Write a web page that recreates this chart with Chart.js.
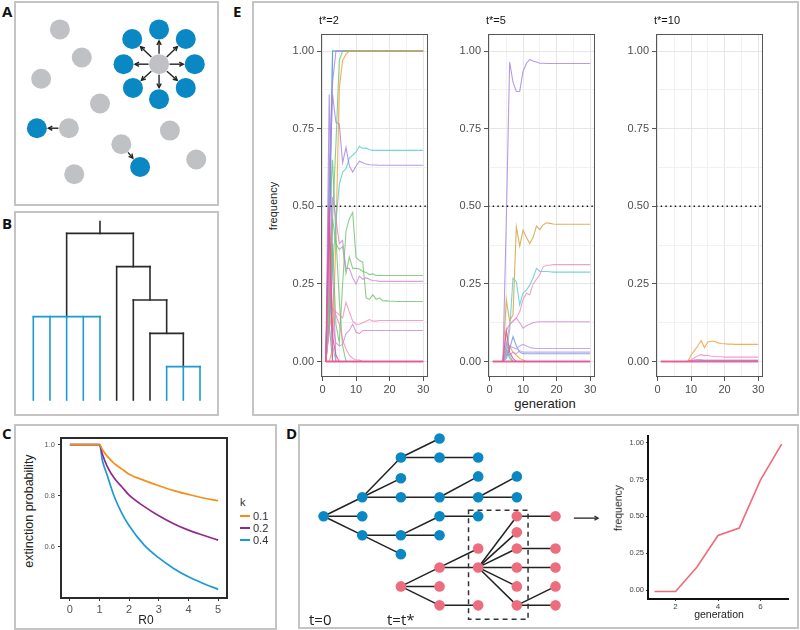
<!DOCTYPE html>
<html>
<head>
<meta charset="utf-8">
<script src="https://cdn.jsdelivr.net/npm/chart.js@4.4.1/dist/chart.umd.min.js"></script>
<style>
html,body{margin:0;padding:0;background:#fff}
body{width:800px;height:630px;position:relative;overflow:hidden;font-family:"Liberation Sans",Arial,sans-serif;color:#222}
.box{position:absolute;border:2px solid #c4c4c4;box-sizing:border-box}
.t{position:absolute;white-space:nowrap;line-height:1}
canvas{position:absolute}
</style>
</head>
<body>
<script>
Chart.defaults.font.family = '"Liberation Sans", Arial, sans-serif';

// ================= DATA =================
// Panel A: individuals (x, y in 0..100 box units)
const grayA = [[19.5,90.0],[31.4,74.7],[9.3,63.2],[41.3,49.7],[24.4,36.3],[79.3,35.0],[52.9,27.6],[93.6,19.3],[27.3,11.3],[73.4,71.1]];
const blueA = [[73.4,90.0],[87.9,84.8],[92.8,71.1],[87.9,58.2],[73.4,52.1],[59.2,58.2],[54.1,71.1],[58.8,84.8],[7.0,36.3],[63.1,15.2]];
const arrowsA = [[9,0],[9,1],[9,2],[9,3],[9,4],[9,5],[9,6],[9,7],[4,8],[6,9]]; // gray index -> blue index

// Panel B: dendrogram segments [x1,y1,x2,y2] (x = leaf index, y = height)
const dendroBlack = [[3,2.5,3,5],[3,5,7,5],[5,5,5,5.35],[7,4,7,5],[6,4,8,4],[6,0,6,4],[8,3,8,4],[7,3,9,3],[7,0,7,3],[9,2,9,3],[8,2,10,2],[8,0,8,2],[10,1,10,2]];
const dendroBlue = [[1,2.5,5,2.5],[1,0,1,2.5],[2,0,2,2.5],[3,0,3,2.5],[4,0,4,2.5],[5,0,5,2.5],[9,1,11,1],[9,0,9,1],[10,0,10,1],[11,0,11,1]];

// Panel C: extinction probability vs R0
const r0Values = [0,0.5,1,1.1,1.25,1.5,1.75,2,2.5,3,3.5,4,4.5,5];
const extK01 = [1,1,1,0.98,0.956,0.926,0.905,0.884,0.86,0.839,0.82,0.805,0.791,0.78];
const extK02 = [1,1,1,0.961,0.917,0.868,0.835,0.802,0.758,0.721,0.69,0.665,0.645,0.626];
const extK04 = [1,1,1,0.936,0.883,0.796,0.732,0.682,0.607,0.556,0.515,0.482,0.456,0.433];
const kLabels = ['0.1','0.2','0.4'];
const cXTicks = [0,1,2,3,4,5];
const cYTicks = [0.6,0.8,1.0];

// Panel D: transmission tree (x = generation column, y = row)
const blueNodesD = [[0,4.1],[1,3.1],[1,4.1],[1,5.1],[2,1],[2,2.1],[2,3.1],[2,5.1],[2,6.1],[3,0],[3,1],[3,3.1],[3,4.1],[3,5.1],[4,1],[4,2],[4,3.1],[4,4.1],[5,2],[5,3.1]];
const pinkNodesD = [[2,7.8],[3,6.8],[3,7.8],[3,8.8],[4,5.8],[4,6.8],[4,8.8],[5,4.1],[5,4.95],[5,5.8],[5,6.8],[5,7.8],[5,8.8],[6,4.1],[6,5.8],[6,6.8],[6,7.8],[6,8.8]];
const edgesD = [[0,4.1,1,3.1],[0,4.1,1,4.1],[0,4.1,1,5.1],[1,3.1,2,1],[1,3.1,2,2.1],[1,3.1,2,3.1],[1,5.1,2,5.1],[1,5.1,2,6.1],
  [2,1,3,0],[2,1,3,1],[2,3.1,3,3.1],[2,5.1,3,4.1],[2,5.1,3,5.1],[3,1,4,1],[3,3.1,4,2],[3,3.1,4,3.1],[3,4.1,4,4.1],[4,3.1,5,2],[4,3.1,5,3.1],
  [2,7.8,3,6.8],[2,7.8,3,7.8],[2,7.8,3,8.8],[3,6.8,4,5.8],[3,6.8,4,6.8],[3,8.8,4,8.8],
  [4,6.8,5,4.1],[4,6.8,5,4.95],[4,6.8,5,5.8],[4,6.8,5,6.8],[4,6.8,5,7.8],[4,6.8,5,8.8],
  [5,4.1,6,4.1],[5,5.8,6,5.8],[5,6.8,6,6.8],[5,8.8,6,7.8],[5,8.8,6,8.8]];
const windowD = [3.75,3.78,5.29,9.53];
const arrowD = [6.475,4.2,7.1,4.2];
const dGenerations = [1,2,3,4,5,6,7];
const dFrequency = [-0.01,-0.01,0.155,0.37,0.42,0.745,0.99];
const dXTicks = [2,4,6];
const dYTicks = [0,0.25,0.5,0.75,1];

// Panel E: frequency trajectories
const generations = [1,2,3,4,5,6,7,8,9,10,11,12,13,14,15,16,17,18,19,20,21,22,23,24,25,26,27,28,29,30];
const eTitles = ['t*=2','t*=5','t*=10'];
const threshold = 0.5;
const eYTicks = [0,0.125,0.25,0.375,0.5,0.625,0.75,0.875,1];
const eYMajor = [0,0.25,0.5,0.75,1];
const eXTicks = [0,5,10,15,20,25,30];
const eXMajor = [0,10,20,30];

// t* = 2
const e2_purpleDecay = [0,0.86,0.3,0,0,0,0,0,0,0, 0,0,0,0,0,0,0,0,0,0, 0,0,0,0,0,0,0,0,0,0];
const e2_tealDecay   = [0,0.25,0.05,0,0,0,0,0,0,0, 0,0,0,0,0,0,0,0,0,0, 0,0,0,0,0,0,0,0,0,0];
const e2_blueDecay   = [0,0.12,0,0,0,0,0,0,0,0, 0,0,0,0,0,0,0,0,0,0, 0,0,0,0,0,0,0,0,0,0];
const e2_greenDecay  = [0,0.45,0.65,0.4,0.2,0.05,0,0,0,0, 0,0,0,0,0,0,0,0,0,0, 0,0,0,0,0,0,0,0,0,0];
const e2_tealFix   = [0,0.48,1,1,1,1,1,1,1,1, 1,1,1,1,1,1,1,1,1,1, 1,1,1,1,1,1,1,1,1,1];
const e2_blueFix   = [0,0.3,1,1,1,1,1,1,1,1, 1,1,1,1,1,1,1,1,1,1, 1,1,1,1,1,1,1,1,1,1];
const e2_purpleFix = [0,0.62,0.9,1,1,1,1,1,1,1, 1,1,1,1,1,1,1,1,1,1, 1,1,1,1,1,1,1,1,1,1];
const e2_greenFix  = [0,0.2,0.46,0.7,0.97,1,1,1,1,1, 1,1,1,1,1,1,1,1,1,1, 1,1,1,1,1,1,1,1,1,1];
const e2_orangeFix = [0,0,0.04,0.4,0.88,0.97,0.99,1,1,1, 1,1,1,1,1,1,1,1,1,1, 1,1,1,1,1,1,1,1,1,1];
const e2_teal68   = [0,0.12,0.3,0.45,0.57,0.61,0.62,0.655,0.665,0.675, 0.693,0.686,0.688,0.682,0.68,0.68,0.68,0.68,0.68,0.68, 0.68,0.68,0.68,0.68,0.68,0.68,0.68,0.68,0.68,0.68];
const e2_purple63 = [0,0.55,0.86,0.77,0.765,0.64,0.69,0.63,0.61,0.63, 0.645,0.64,0.636,0.634,0.633,0.633,0.632,0.632,0.632,0.632, 0.632,0.632,0.632,0.632,0.632,0.632,0.632,0.632,0.632,0.632];
const e2_green28  = [0,0.1,0.46,0.38,0.36,0.37,0.284,0.337,0.3,0.3, 0.298,0.29,0.287,0.28,0.282,0.277,0.278,0.277,0.277,0.277, 0.277,0.277,0.277,0.277,0.277,0.277,0.277,0.277,0.277,0.277];
const e2_green19  = [0,0.15,0.38,0.12,0.06,0.25,0.42,0.46,0.48,0.335, 0.325,0.32,0.205,0.2,0.215,0.2,0.205,0.195,0.196,0.194, 0.194,0.193,0.193,0.193,0.193,0.193,0.193,0.193,0.193,0.193];
const e2_mauve26  = [0,0.25,0.53,0.46,0.38,0.39,0.3,0.3,0.27,0.25, 0.275,0.265,0.27,0.265,0.26,0.26,0.258,0.258,0.258,0.258, 0.258,0.258,0.258,0.258,0.258,0.258,0.258,0.258,0.258,0.258];
const e2_pink13   = [0,0.1,0.17,0.16,0.15,0.14,0.19,0.16,0.13,0.12, 0.12,0.125,0.13,0.135,0.13,0.13,0.132,0.132,0.132,0.132, 0.132,0.132,0.132,0.132,0.132,0.132,0.132,0.132,0.132,0.132];
const e2_purple10 = [0,0.3,0.12,0.06,0.05,0.055,0.09,0.1,0.12,0.095, 0.09,0.1,0.1,0.1,0.1,0.1,0.1,0.1,0.1,0.1, 0.1,0.1,0.1,0.1,0.1,0.1,0.1,0.1,0.1,0.1];
const e2_pinkDecay = [0,0.35,0.17,0.15,0.12,0.07,0.04,0.02,0.01,0.005, 0.005,0,0,0,0,0,0,0,0,0, 0,0,0,0,0,0,0,0,0,0];
const e2_hotpink1  = [0,0.5,0.08,0.02,0,0,0,0,0,0, 0,0,0,0,0,0,0,0,0,0, 0,0,0,0,0,0,0,0,0,0];
const e2_hotpink2  = [0,0.45,0,0,0,0,0,0,0,0, 0,0,0,0,0,0,0,0,0,0, 0,0,0,0,0,0,0,0,0,0];
const e2_zero      = [0,0,0,0,0,0,0,0,0,0, 0,0,0,0,0,0,0,0,0,0, 0,0,0,0,0,0,0,0,0,0];

// t* = 5
const e5_teal0    = [0,0,0,0,0.06,0.02,0,0,0,0, 0,0,0,0,0,0,0,0,0,0, 0,0,0,0,0,0,0,0,0,0];
const e5_green0   = [0,0,0,0,0.04,0.01,0,0,0,0, 0,0,0,0,0,0,0,0,0,0, 0,0,0,0,0,0,0,0,0,0];
const e5_orange0  = [0,0,0,0,0.02,0.05,0.03,0.02,0.01,0.005, 0,0,0,0,0,0,0,0,0,0, 0,0,0,0,0,0,0,0,0,0];
const e5_blue025  = [0,0,0,0,0.01,0.04,0.08,0.05,0.03,0.025, 0.025,0.025,0.025,0.025,0.025,0.025,0.025,0.025,0.025,0.025, 0.025,0.025,0.025,0.025,0.025,0.025,0.025,0.025,0.025,0.025];
const e5_lav03    = [0,0,0,0,0.03,0.02,0.03,0.025,0.035,0.03, 0.03,0.03,0.03,0.03,0.03,0.03,0.03,0.03,0.03,0.03, 0.03,0.03,0.03,0.03,0.03,0.03,0.03,0.03,0.03,0.03];
const e5_lav04    = [0,0,0,0,0.02,0.05,0.045,0.04,0.05,0.055, 0.05,0.045,0.043,0.042,0.042,0.042,0.042,0.042,0.042,0.042, 0.042,0.042,0.042,0.042,0.042,0.042,0.042,0.042,0.042,0.042];
const e5_mauve13  = [0,0,0,0,0.1,0.12,0.13,0.14,0.125,0.107, 0.115,0.12,0.125,0.127,0.128,0.128,0.128,0.128,0.128,0.128, 0.128,0.128,0.128,0.128,0.128,0.128,0.128,0.128,0.128,0.128];
const e5_teal29   = [0,0,0,0,0.03,0.1,0.268,0.257,0.182,0.22, 0.23,0.246,0.27,0.3,0.29,0.29,0.29,0.289,0.288,0.288, 0.288,0.288,0.288,0.288,0.288,0.288,0.288,0.288,0.288,0.288];
const e5_pink31   = [0,0,0,0,0.05,0.12,0.13,0.14,0.16,0.2, 0.22,0.215,0.25,0.265,0.28,0.305,0.31,0.31,0.312,0.312, 0.312,0.312,0.312,0.312,0.312,0.312,0.312,0.312,0.312,0.312];
const e5_mustard44 = [0,0,0,0,0.2,0.13,0.15,0.434,0.372,0.423, 0.4,0.38,0.4,0.436,0.425,0.44,0.447,0.445,0.443,0.442, 0.442,0.442,0.442,0.442,0.442,0.442,0.442,0.442,0.442,0.442];
const e5_purple96 = [0,0,0,0,0.45,0.965,0.9,0.87,0.87,0.935, 0.96,0.973,0.968,0.965,0.961,0.961,0.96,0.96,0.96,0.96, 0.96,0.96,0.96,0.96,0.96,0.96,0.96,0.96,0.96,0.96];
const e5_hotpink0 = [0,0,0,0,0.1,0.03,0.01,0,0,0, 0,0,0,0,0,0,0,0,0,0, 0,0,0,0,0,0,0,0,0,0];
const e5_zero     = [0,0,0,0,0,0,0,0,0,0, 0,0,0,0,0,0,0,0,0,0, 0,0,0,0,0,0,0,0,0,0];

// t* = 10
const e10_blue003 = [0,0,0,0,0,0,0,0,0,0.002, 0.004,0.004,0.003,0.003,0.003,0.003,0.003,0.003,0.003,0.003, 0.003,0.003,0.003,0.003,0.003,0.003,0.003,0.003,0.003,0.003];
const e10_lav005  = [0,0,0,0,0,0,0,0,0,0.003, 0.005,0.006,0.006,0.005,0.005,0.005,0.005,0.005,0.005,0.005, 0.005,0.005,0.005,0.005,0.005,0.005,0.005,0.005,0.005,0.005];
const e10_pink014 = [0,0,0,0,0,0,0,0,0,0.005, 0.012,0.018,0.022,0.019,0.02,0.017,0.016,0.015,0.015,0.014, 0.014,0.014,0.014,0.014,0.014,0.014,0.014,0.014,0.014,0.014];
const e10_orange055 = [0,0,0,0,0,0,0,0,0,0.02, 0.035,0.05,0.067,0.045,0.063,0.065,0.065,0.06,0.058,0.057, 0.056,0.056,0.055,0.055,0.055,0.055,0.055,0.055,0.055,0.055];
const e10_zero    = [0,0,0,0,0,0,0,0,0,0, 0,0,0,0,0,0,0,0,0,0, 0,0,0,0,0,0,0,0,0,0];

// ================= STYLES =================
const COL = {
  teal:'rgba(70,200,200,0.75)', blue:'rgba(90,140,225,0.75)', purple:'rgba(165,130,220,0.8)',
  green:'rgba(100,190,100,0.75)', orange:'rgba(245,160,60,0.85)', mauve:'rgba(205,135,210,0.8)',
  pink:'rgba(242,135,185,0.8)', hotpink:'rgba(232,85,150,0.9)', mustard:'rgba(212,170,80,0.9)', lav:'rgba(185,150,220,0.8)'
};
const panelE = [
  { series:[e2_purpleDecay,e2_tealDecay,e2_blueDecay,e2_greenDecay,e2_tealFix,e2_blueFix,e2_purpleFix,e2_greenFix,e2_orangeFix,e2_teal68,e2_purple63,e2_green28,e2_green19,e2_mauve26,e2_pink13,e2_purple10,e2_pinkDecay,e2_hotpink1,e2_hotpink2,e2_zero],
    colors:[COL.purple,COL.teal,COL.blue,COL.green,COL.teal,COL.blue,COL.purple,COL.green,COL.orange,COL.teal,COL.purple,COL.green,COL.green,COL.mauve,COL.pink,COL.mauve,COL.pink,COL.hotpink,COL.hotpink,COL.hotpink] },
  { series:[e5_teal0,e5_green0,e5_orange0,e5_blue025,e5_lav03,e5_lav04,e5_mauve13,e5_teal29,e5_pink31,e5_mustard44,e5_purple96,e5_hotpink0,e5_zero],
    colors:[COL.teal,COL.green,COL.orange,COL.blue,COL.lav,COL.lav,COL.mauve,COL.teal,COL.pink,COL.mustard,COL.purple,COL.hotpink,COL.hotpink] },
  { series:[e10_blue003,e10_lav005,e10_pink014,e10_orange055,e10_zero],
    colors:['rgba(120,140,190,0.8)',COL.lav,COL.pink,COL.orange,COL.hotpink] }
];

// ================= HELPERS =================
function addBox(l,t,r,b){const d=document.createElement('div');d.className='box';Object.assign(d.style,{left:l+'px',top:t+'px',width:(r-l)+'px',height:(b-t)+'px'});document.body.appendChild(d);}
function addText(s,x,y,o){o=o||{};const d=document.createElement('div');d.className='t';d.textContent=s;d.style.left=x+'px';d.style.top=y+'px';d.style.fontSize=(o.size||12)+'px';if(o.color)d.style.color=o.color;if(o.family)d.style.fontFamily=o.family;if(o.weight)d.style.fontWeight=o.weight;let tr=o.align==='left'?'translate(0,-50%)':'translate(-50%,-50%)';if(o.rot)tr+=' rotate('+o.rot+'deg)';d.style.transform=tr;document.body.appendChild(d);return d;}
function addCanvas(l,t,w,h){const c=document.createElement('canvas');c.width=w;c.height=h;c.style.left=l+'px';c.style.top=t+'px';c.style.width=w+'px';c.style.height=h+'px';document.body.appendChild(c);return c;}
function plainOpts(xmin,xmax,ymin,ymax,rev){return {responsive:false,animation:false,events:[],layout:{padding:0},plugins:{legend:{display:false},tooltip:{enabled:false}},scales:{x:{type:'linear',display:false,min:xmin,max:xmax},y:{type:'linear',display:false,min:ymin,max:ymax,reverse:!!rev}}};}
function framePlugin(color,w){return {id:'frame',afterDraw(ch){const a=ch.chartArea,ctx=ch.ctx;ctx.save();ctx.strokeStyle=color;ctx.lineWidth=w;const o=(w%2)?0.5:0;ctx.strokeRect(Math.round(a.left)+o,Math.round(a.top)+o,Math.round(a.right-a.left)-2*o,Math.round(a.bottom-a.top)-2*o);ctx.restore();}};}
function pts(arr){return arr.map(p=>({x:p[0],y:p[1]}));}
function head(ctx,ex,ey,ux,uy,len,ang){const a=Math.atan2(uy,ux);ctx.beginPath();ctx.moveTo(ex-len*Math.cos(a-ang),ey-len*Math.sin(a-ang));ctx.lineTo(ex,ey);ctx.lineTo(ex-len*Math.cos(a+ang),ey-len*Math.sin(a+ang));ctx.stroke();}

// ================= BOXES & LETTERS =================
addBox(14,1,219,206); addBox(14,211,219,416); addBox(14,424,277,630); addBox(298,424,799,629); addBox(252,1,799,416);
const LF = '"Open Sans","Liberation Sans",sans-serif';
addText('A',2,11,{size:15,weight:700,align:'left',family:LF,color:'#111'});
addText('B',2,223,{size:15,weight:700,align:'left',family:LF,color:'#111'});
addText('C',2,433,{size:15,weight:700,align:'left',family:LF,color:'#111'});
addText('D',286,433,{size:15,weight:700,align:'left',family:LF,color:'#111'});
addText('E',233,11,{size:15,weight:700,align:'left',family:LF,color:'#111'});

// ================= PANEL A =================
new Chart(addCanvas(14,1,204,204), {
  type:'scatter',
  data:{datasets:[
    {data:pts(grayA),pointRadius:10,pointBackgroundColor:'#c0c1c4',pointBorderWidth:0,clip:false},
    {data:pts(blueA),pointRadius:10,pointBackgroundColor:'#0a88c3',pointBorderWidth:0,clip:false}]},
  options:plainOpts(0,100,0,100),
  plugins:[{id:'arrA',afterDatasetsDraw(ch){const xs=ch.scales.x,ys=ch.scales.y,ctx=ch.ctx;ctx.save();ctx.strokeStyle='#222';ctx.lineWidth=1.4;
    arrowsA.forEach(([g,b])=>{const x1=xs.getPixelForValue(grayA[g][0]),y1=ys.getPixelForValue(grayA[g][1]),x2=xs.getPixelForValue(blueA[b][0]),y2=ys.getPixelForValue(blueA[b][1]);
      const dx=x2-x1,dy=y2-y1,L=Math.hypot(dx,dy),ux=dx/L,uy=dy/L;const sx=x1+ux*10.5,sy=y1+uy*10.5,ex=x2-ux*11.5,ey=y2-uy*11.5;
      ctx.beginPath();ctx.moveTo(sx,sy);ctx.lineTo(ex,ey);ctx.stroke();head(ctx,ex,ey,ux,uy,4.5,0.5);});
    ctx.restore();}}]
});

// ================= PANEL B =================
new Chart(addCanvas(14,211,204,204),{
  type:'scatter',data:{datasets:[]},
  options:plainOpts(-0.158,12.08,-0.45,5.67),
  plugins:[{id:'dendro',afterDatasetsDraw(ch){const xs=ch.scales.x,ys=ch.scales.y,ctx=ch.ctx;ctx.save();ctx.lineWidth=1.6;ctx.lineCap='square';
    const draw=(segs,c)=>{ctx.strokeStyle=c;segs.forEach(s=>{ctx.beginPath();ctx.moveTo(xs.getPixelForValue(s[0]),ys.getPixelForValue(s[1]));ctx.lineTo(xs.getPixelForValue(s[2]),ys.getPixelForValue(s[3]));ctx.stroke();});};
    draw(dendroBlack,'#2a2a2a');draw(dendroBlue,'#1b9ad4');ctx.restore();}}]
});

// ================= PANEL C =================
new Chart(addCanvas(40,430,195,187),{
  type:'scatter',
  data:{datasets:[
    {data:r0Values.map((r,i)=>({x:r,y:extK01[i]})),showLine:true,borderColor:'#f39019',borderWidth:1.7,pointRadius:0,cubicInterpolationMode:'monotone'},
    {data:r0Values.map((r,i)=>({x:r,y:extK02[i]})),showLine:true,borderColor:'#93288f',borderWidth:1.7,pointRadius:0,cubicInterpolationMode:'monotone'},
    {data:r0Values.map((r,i)=>({x:r,y:extK04[i]})),showLine:true,borderColor:'#1b9ad6',borderWidth:1.7,pointRadius:0,cubicInterpolationMode:'monotone'}]},
  options:{responsive:false,animation:false,events:[],layout:{padding:{top:7,right:8,left:0,bottom:0}},
    plugins:{legend:{display:false},tooltip:{enabled:false}},
    scales:{
      x:{type:'linear',min:-0.3,max:5.3,afterBuildTicks:s=>{s.ticks=cXTicks.map(v=>({value:v}));},afterFit:s=>{s.height=20;},
        ticks:{autoSkip:false,maxRotation:0,padding:2,color:'#555',font:{size:11},callback:v=>String(v)},
        grid:{drawOnChartArea:false,drawTicks:true,tickLength:4,tickColor:'#333'},border:{display:false}},
      y:{type:'linear',min:0.403,max:1.028,afterBuildTicks:s=>{s.ticks=cYTicks.map(v=>({value:v}));},afterFit:s=>{s.width=21;},
        ticks:{autoSkip:false,padding:3,color:'#555',font:{size:7.5},callback:v=>v.toFixed(1)},
        grid:{drawOnChartArea:false,drawTicks:true,tickLength:3,tickColor:'#333'},border:{display:false}}
    }},
  plugins:[framePlugin('#2b2b2b',2)]
});
addText('extinction probability',29,511,{size:12.5,rot:-90,color:'#222'});
addText('R0',146,620,{size:12,color:'#222'});
addText('k',240,502,{size:11,align:'left',color:'#333'});
const legColors=['#f39019','#93288f','#1b9ad6'];
kLabels.forEach((k,i)=>{const y=515.5+12*i;const bar=document.createElement('div');Object.assign(bar.style,{position:'absolute',left:'240px',top:(y-1)+'px',width:'10px',height:'2px',background:legColors[i]});document.body.appendChild(bar);addText(k,253,y,{size:11,align:'left',color:'#333'});});

// ================= PANEL D (tree) =================
new Chart(addCanvas(298,424,314,204),{
  type:'scatter',
  data:{datasets:[
    {data:pts(blueNodesD),pointRadius:5.3,pointBackgroundColor:'#0a88c3',pointBorderWidth:0,clip:false},
    {data:pts(pinkNodesD),pointRadius:5.3,pointBackgroundColor:'#ec6e7e',pointBorderWidth:0,clip:false}]},
  options:plainOpts(-0.525,7.325,-0.485,9.715,true),
  plugins:[{id:'tree',beforeDatasetsDraw(ch){const xs=ch.scales.x,ys=ch.scales.y,ctx=ch.ctx;const X=v=>xs.getPixelForValue(v),Y=v=>ys.getPixelForValue(v);
    ctx.save();ctx.strokeStyle='#222';ctx.lineWidth=1.5;
    edgesD.forEach(e=>{ctx.beginPath();ctx.moveTo(X(e[0]),Y(e[1]));ctx.lineTo(X(e[2]),Y(e[3]));ctx.stroke();});
    ctx.setLineDash([5,4]);ctx.strokeStyle='#333';ctx.strokeRect(X(windowD[0]),Y(windowD[1]),X(windowD[2])-X(windowD[0]),Y(windowD[3])-Y(windowD[1]));
    ctx.setLineDash([]);ctx.lineWidth=1.4;const ax1=X(arrowD[0]),ay=Y(arrowD[1]),ax2=X(arrowD[2]);ctx.beginPath();ctx.moveTo(ax1,ay);ctx.lineTo(ax2,ay);ctx.stroke();head(ctx,ax2,ay,1,0,4,0.5);
    ctx.restore();}}]
});
addText('t=0',309,619,{size:15,align:'left',family:LF,color:'#222'});
addText('t=t*',387,619,{size:15,align:'left',family:LF,color:'#222'});

// ================= PANEL D (frequency) =================
new Chart(addCanvas(612,428,185,198),{
  type:'scatter',
  data:{datasets:[{data:dGenerations.map((g,i)=>({x:g,y:dFrequency[i]})),showLine:true,borderColor:'#ef6a78',borderWidth:1.6,pointRadius:0}]},
  options:{responsive:false,animation:false,events:[],layout:{padding:{top:8,right:9,left:0,bottom:0}},
    plugins:{legend:{display:false},tooltip:{enabled:false}},
    scales:{
      x:{type:'linear',min:0.7,max:7.3,afterBuildTicks:s=>{s.ticks=dXTicks.map(v=>({value:v}));},afterFit:s=>{s.height=27;},
        ticks:{autoSkip:false,maxRotation:0,padding:1,color:'#444',font:{size:8}},
        grid:{drawOnChartArea:false,drawTicks:true,tickLength:2,tickColor:'#333'},border:{display:true,color:'#111',width:2}},
      y:{type:'linear',min:-0.061,max:1.045,afterBuildTicks:s=>{s.ticks=dYTicks.map(v=>({value:v}));},afterFit:s=>{s.width=36;},
        ticks:{autoSkip:false,padding:2,color:'#444',font:{size:7.5},callback:v=>v.toFixed(2)},
        grid:{drawOnChartArea:false,drawTicks:true,tickLength:2,tickColor:'#333'},border:{display:true,color:'#111',width:2}}
    }}
});
addText('frequency',618,508,{size:10.5,rot:-90,color:'#222'});
addText('generation',719,614,{size:10.5,color:'#222'});

// ================= PANEL E =================
const eLefts = [288,455,623];
const eXMin = -0.45, eXMax = 31.45;
panelE.forEach((p,k)=>{
  const ds=[{data:[{x:eXMin,y:threshold},{x:eXMax,y:threshold}],showLine:true,borderColor:'#111',borderWidth:1.4,borderDash:[1.4,3.3],pointRadius:0}];
  for(let i=p.series.length-1;i>=0;i--){
    const isZero = p.series[i].every(v=>v===0);
    ds.push({data:generations.map((g,j)=>({x:g,y:p.series[i][j]})),showLine:true,borderColor:p.colors[i],borderWidth:isZero?2:1.1,pointRadius:0,tension:0});
  }
  new Chart(addCanvas(eLefts[k],24,150,371),{
    type:'scatter',data:{datasets:ds},
    options:{responsive:false,animation:false,events:[],layout:{padding:{top:10,right:10,left:0,bottom:0}},
      plugins:{legend:{display:false},tooltip:{enabled:false}},
      scales:{
        x:{type:'linear',min:eXMin,max:eXMax,afterBuildTicks:s=>{s.ticks=eXTicks.map(v=>({value:v}));},afterFit:s=>{s.height=18;},
          ticks:{autoSkip:false,maxRotation:0,padding:2,color:'#4d4d4d',font:{size:11},callback:v=>eXMajor.includes(v)?String(v):''},
          grid:{color:c=>(c.tick&&eXMajor.includes(c.tick.value))?'#e6e6e6':'#f1f1f1',lineWidth:1,drawTicks:true,tickLength:4,
                tickColor:c=>(c.tick&&eXMajor.includes(c.tick.value))?'#555':'rgba(0,0,0,0)'},border:{display:false}},
        y:{type:'linear',min:-0.05,max:1.055,afterBuildTicks:s=>{s.ticks=eYTicks.map(v=>({value:v}));},afterFit:s=>{s.width=33;},
          ticks:{autoSkip:false,padding:3,color:'#4d4d4d',font:{size:11},callback:v=>eYMajor.includes(v)?v.toFixed(2):''},
          grid:{color:c=>(c.tick&&eYMajor.includes(c.tick.value))?'#e6e6e6':'#f1f1f1',lineWidth:1,drawTicks:true,tickLength:4,
                tickColor:c=>(c.tick&&eYMajor.includes(c.tick.value))?'#555':'rgba(0,0,0,0)'},border:{display:false}}
      }},
    plugins:[framePlugin('#555',1)]
  });
  addText(eTitles[k],eLefts[k]+31,20,{size:11,align:'left',color:'#111'});
});
addText('frequency',273,206,{size:11,rot:-90,color:'#222'});
addText('generation',545,403,{size:13,color:'#222'});
</script>
</body>
</html>
